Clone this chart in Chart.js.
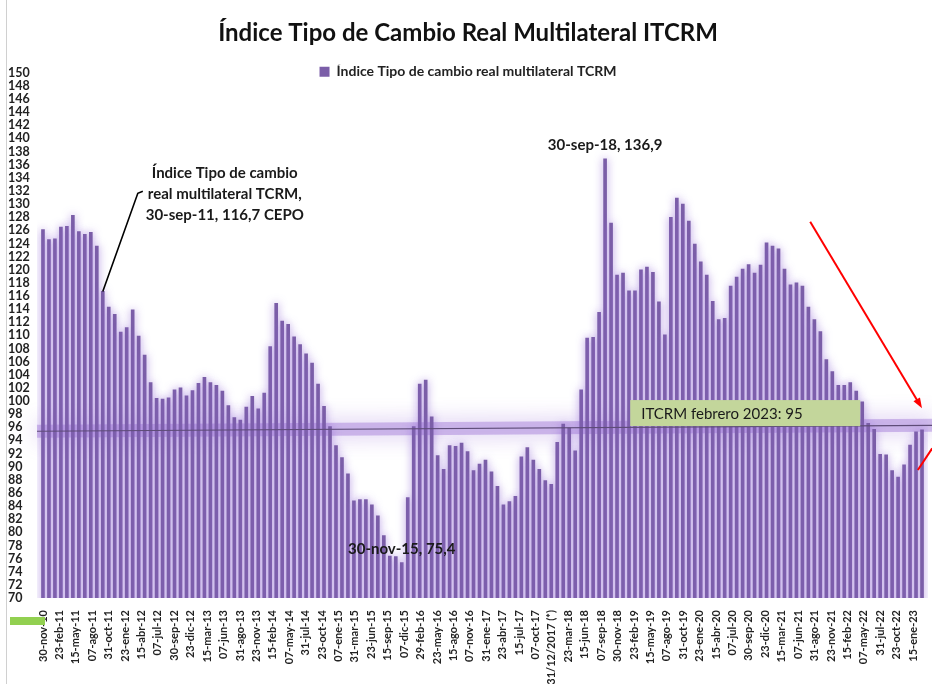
<!DOCTYPE html>
<html lang="es">
<head>
<meta charset="utf-8">
<title>ITCRM</title>
<script src="https://cdn.jsdelivr.net/npm/chart.js@4.4.1/dist/chart.umd.min.js"></script>
<style>
    html, body { margin: 0; padding: 0; background: #fff; }
    canvas { display: block; }
</style>
</head>
<body>
<canvas id="chart" width="932" height="684"></canvas>
<script>
// monthly values (end of month), from nov-2010 to feb-2023
const v2010 = [126.1, 124.6];
const v2011 = [124.7, 126.5, 126.6, 128.3, 125.8, 125.4, 125.7, 123.6, 116.7, 114.3, 113.2, 110.5];
const v2012 = [111.2, 113.9, 109.9, 107.0, 102.8, 100.4, 100.3, 100.5, 101.7, 102.0, 100.8, 101.6];
const v2013 = [102.7, 103.6, 102.8, 102.4, 101.5, 99.3, 97.5, 97.1, 99.1, 100.7, 98.8, 101.2];
const v2014 = [108.3, 114.9, 112.2, 111.7, 109.8, 108.6, 107.2, 105.8, 102.6, 99.2, 96.1, 93.2];
const v2015 = [91.4, 88.9, 84.8, 85.0, 85.0, 84.2, 82.5, 79.5, 76.4, 76.3, 75.4, 85.3];
const v2016 = [96.1, 102.6, 103.2, 97.6, 91.7, 89.6, 93.2, 93.1, 93.6, 92.3, 89.4, 90.4];
const v2017 = [91.0, 89.2, 87.0, 84.2, 84.7, 85.5, 91.5, 92.9, 91.0, 89.6, 87.9, 87.3];
const v2018 = [93.7, 96.5, 95.9, 92.4, 101.7, 109.6, 109.7, 113.5, 136.9, 127.1, 119.2, 119.5];
const v2019 = [116.8, 116.8, 120.0, 120.4, 119.6, 115.1, 110.1, 128.0, 130.9, 130.0, 127.4, 123.9];
const v2020 = [121.2, 119.2, 115.2, 112.4, 112.6, 117.5, 118.9, 120.1, 120.8, 119.5, 120.7, 124.1];
const v2021 = [123.6, 123.2, 120.1, 117.7, 118.0, 117.5, 114.3, 112.4, 110.6, 106.3, 104.5, 102.4];
const v2022 = [102.4, 102.8, 101.5, 99.9, 96.6, 95.7, 91.9, 91.8, 89.4, 88.4, 90.3, 93.3];
const v2023 = [95.3, 95.6];

const xTickLabels = [
    "30-nov-10", "23-feb-11", "15-may-11", "07-ago-11", "31-oct-11", "23-ene-12",
    "15-abr-12", "07-jul-12", "30-sep-12", "23-dic-12", "15-mar-13", "07-jun-13",
    "31-ago-13", "23-nov-13", "15-feb-14", "07-may-14", "31-jul-14", "23-oct-14",
    "07-ene-15", "31-mar-15", "23-jun-15", "15-sep-15", "07-dic-15", "29-feb-16",
    "23-may-16", "15-ago-16", "07-nov-16", "31-ene-17", "23-abr-17", "15-jul-17",
    "07-oct-17", "31/12/2017 (*)", "23-mar-18", "15-jun-18", "07-sep-18", "30-nov-18",
    "23-feb-19", "15-may-19", "07-ago-19", "31-oct-19", "23-ene-20", "15-abr-20",
    "07-jul-20", "30-sep-20", "23-dic-20", "15-mar-21", "07-jun-21", "31-ago-21",
    "23-nov-21", "15-feb-22", "07-may-22", "31-jul-22", "23-oct-22", "15-ene-23",
];
const yTicks = [
    70, 72, 74, 76, 78, 80, 82, 84, 86, 88, 90, 92, 94, 96, 98, 100, 102, 104, 106,
    108, 110, 112, 114, 116, 118, 120, 122, 124, 126, 128, 130, 132, 134, 136, 138,
    140, 142, 144, 146, 148, 150,
];

// horizontal reference (start, end) and last-label position in months
const refLine = [95.4, 96.3];
const lastTickMonth = 145.5;

const values = [
    ...v2010, ...v2011, ...v2012, ...v2013, ...v2014, ...v2015, ...v2016,
    ...v2017, ...v2018, ...v2019, ...v2020, ...v2021, ...v2022, ...v2023,
];
const monthIndex = (y, m) => (y - 2010) * 12 + (m - 11);

const FONT = "Lato, 'Open Sans', sans-serif";
const X_MIN = -1;
const X_MAX = 148;

const barData = values.map((v, i) => ({ x: i, y: v }));
const refData = [
    { x: X_MIN, y: refLine[0] },
    { x: X_MAX + 1, y: refLine[1] },
];

// soft purple halo like the original
const glowPlugin = {
    id: "glow",
    beforeDatasetDraw(chart, args) {
        const ds = chart.data.datasets[args.index];
        if (!ds.glow) return;
        chart.ctx.save();
        chart.ctx.shadowColor = ds.glow.color;
        chart.ctx.shadowBlur = ds.glow.blur;
    },
    afterDatasetDraw(chart, args) {
        const ds = chart.data.datasets[args.index];
        if (!ds.glow) return;
        chart.ctx.restore();
    },
};

// the legend sits partly over the plot, like in the original
const OVERLAP = 16;
const legendOverlap = {
    id: "legendOverlap",
    beforeLayout(chart) {
        const lg = chart.legend;
        if (!lg || lg._shrunk) return;
        const fit = lg.fit.bind(lg);
        lg.fit = function () {
            fit();
            this.height -= OVERLAP;
        };
        lg._shrunk = true;
    },
    afterLayout(chart) {
        const lg = chart.legend;
        if (!lg) return;
        lg.height += OVERLAP;
        lg.bottom += OVERLAP;
    },
};

function arrow(c, x1, y1, x2, y2) {
    const a = Math.atan2(y2 - y1, x2 - x1);
    c.beginPath();
    c.moveTo(x1, y1);
    c.lineTo(x2 - 8 * Math.cos(a), y2 - 8 * Math.sin(a));
    c.stroke();
    c.beginPath();
    c.moveTo(x2, y2);
    c.lineTo(x2 - 11 * Math.cos(a - 0.35), y2 - 11 * Math.sin(a - 0.35));
    c.lineTo(x2 - 11 * Math.cos(a + 0.35), y2 - 11 * Math.sin(a + 0.35));
    c.closePath();
    c.fill();
}

// Notes, green box, arrows

const notesPlugin = {
    id: "notes",
    afterDraw(chart) {
        const c = chart.ctx;
        const xs = chart.scales.x;
        const ys = chart.scales.y;
        const px = (i) => xs.getPixelForValue(i);
        const py = (v) => ys.getPixelForValue(v);

        c.save();

        // frame line on the left
        c.strokeStyle = "#d0d0d0";
        c.lineWidth = 1;
        c.beginPath();
        c.moveTo(6.5, 0);
        c.lineTo(6.5, chart.height);
        c.stroke();

        // green box
        const bx = px(98.2);
        const by = py(100.15);
        c.fillStyle = "#c3d69b";
        c.fillRect(bx, by, 230, 26);
        c.fillStyle = "#1a1a1a";
        c.font = "15px " + FONT;
        c.textBaseline = "middle";
        c.textAlign = "left";
        c.fillText("ITCRM febrero 2023: 95", bx + 11, by + 14);

        // point labels
        c.font = "bold 15px " + FONT;
        c.textAlign = "center";
        const iSep18 = monthIndex(2018, 9);
        c.fillText("30-sep-18, 136,9", px(iSep18), py(values[iSep18]) - 14);
        const iNov15 = monthIndex(2015, 11);
        c.fillText("30-nov-15, 75,4", px(iNov15), py(values[iNov15]) - 13);

        // callout for sep-11
        const iSep11 = monthIndex(2011, 9);
        const tx = px(30.4);
        const ty = py(134.7);
        const lines = ["Índice Tipo de cambio", "real multilateral TCRM,", "30-sep-11, 116,7 CEPO"];
        lines.forEach((t, k) => c.fillText(t, tx, ty + k * 21));
        const w2 = c.measureText(lines[1]).width;
        c.strokeStyle = "#000";
        c.lineWidth = 1.6;
        c.beginPath();
        c.moveTo(tx - w2 / 2 - 5, ty + 18);
        c.lineTo(tx - w2 / 2 - 10, ty + 20);
        c.lineTo(px(iSep11), py(values[iSep11]));
        c.stroke();

        // red arrows
        c.strokeStyle = "#ff0000";
        c.fillStyle = "#ff0000";
        c.lineWidth = 2;
        arrow(c, px(128.3), py(127.3), px(147), py(98.9));
        c.beginPath();
        c.moveTo(px(146.3), py(89.5));
        c.lineTo(px(148.7), py(92.8));
        c.stroke();

        // little green mark under the axis
        c.fillStyle = "#92d050";
        c.fillRect(10, 617, 35, 8);

        c.restore();
    },
};

const chart = document.querySelector("#chart").getContext("2d");

new Chart(chart, {
    type: "bar",
    data: {
        datasets: [
            {
                type: "line",
                label: "banda",
                data: refData,
                borderColor: "rgba(150, 105, 210, 0.4)",
                borderWidth: 13,
                pointRadius: 0,
                clip: false,
                order: 3,
                glow: { color: "rgba(140, 90, 210, 0.95)", blur: 22 },
            },
            {
                label: "Índice Tipo de cambio real multilateral TCRM",
                data: barData,
                backgroundColor: "#7b5ea8",
                barThickness: 3,
                order: 2,
                glow: { color: "rgba(150, 110, 215, 0.8)", blur: 8 },
            },
            {
                type: "line",
                label: "linea",
                data: refData,
                borderColor: "#5e4c78",
                borderWidth: 1.2,
                pointRadius: 0,
                clip: false,
                order: 1,
            },
        ],
    },
    options: {
        responsive: false,
        animation: false,
        devicePixelRatio: 1,
        layout: {
            autoPadding: false,
            padding: { left: 8, right: 4, top: 0, bottom: 0 },
        },
        plugins: {
            title: {
                display: true,
                text: "Índice Tipo de Cambio Real Multilateral ITCRM",
                color: "#111",
                font: { family: FONT, size: 24, weight: "bold" },
                padding: { top: 19, bottom: 17 },
            },
            legend: {
                display: true,
                labels: {
                    filter: (item) => item.datasetIndex === 1,
                    boxWidth: 10,
                    boxHeight: 10,
                    padding: 0,
                    color: "#222",
                    font: { family: FONT, size: 14, weight: "bold" },
                },
            },
            tooltip: { enabled: false },
        },
        scales: {
            x: {
                type: "linear",
                offset: false,
                min: X_MIN,
                max: X_MAX,
                grid: { display: false },
                border: { display: false },
                afterBuildTicks: (scale) => {
                    const step = lastTickMonth / (xTickLabels.length - 1);
                    scale.ticks = xTickLabels.map((t, j) => ({ value: j * step }));
                },
                afterFit: (scale) => { scale.height = 86; },
                ticks: {
                    autoSkip: false,
                    minRotation: 90,
                    maxRotation: 90,
                    padding: 4,
                    color: "#222",
                    font: { family: FONT, size: 11, weight: "bold" },
                    callback: (v, j) => xTickLabels[j],
                },
            },
            y: {
                min: 70,
                max: 150,
                grid: { display: false },
                border: { display: false },
                afterBuildTicks: (scale) => {
                    scale.ticks = yTicks.map((v) => ({ value: v }));
                },
                afterFit: (scale) => { scale.width = 29; },
                ticks: {
                    autoSkip: false,
                    crossAlign: "far",
                    padding: 2,
                    color: "#222",
                    font: { family: FONT, size: 12.5, weight: "bold" },
                },
            },
        },
    },
    plugins: [glowPlugin, legendOverlap, notesPlugin],
});
</script>
</body>
</html>
